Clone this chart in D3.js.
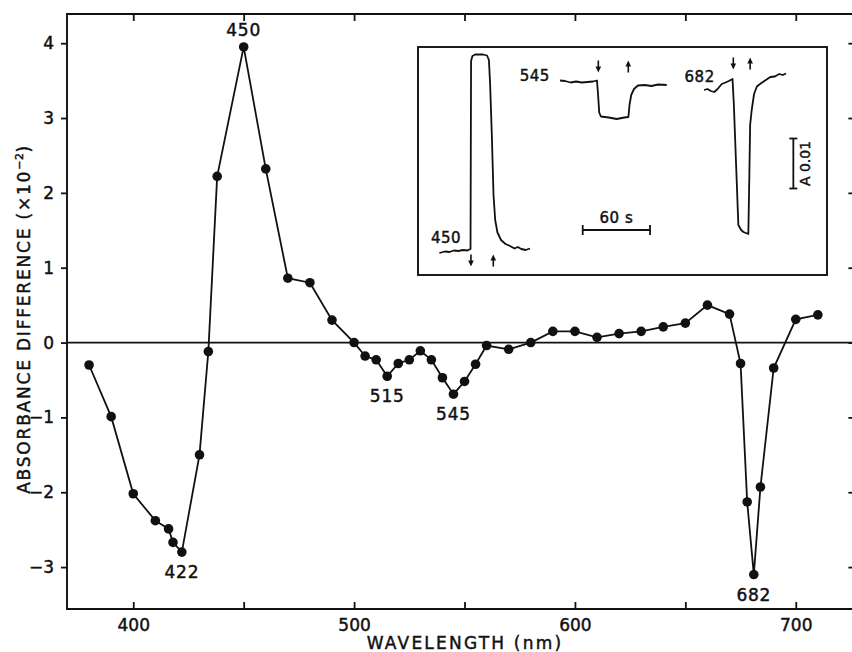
<!DOCTYPE html>
<html>
<head>
<meta charset="utf-8">
<script src="https://cdn.jsdelivr.net/npm/d3@7"></script>
<style>
  body { margin: 0; background: #fff; }
  svg { display: block; }
  text { font-family: "DejaVu Sans", sans-serif; fill: #111; stroke: #111; stroke-width: 0.45px; }
</style>
</head>
<body>
<svg id="chart" width="852" height="652"></svg>
<script>
// main spectrum (absorbance difference x10^-2)
const wavelength = [380, 390, 400, 410, 416, 418, 422, 430, 434, 438, 450, 460, 470, 480, 490,
  500, 505, 510, 515, 520, 525, 530, 535, 540, 545, 550, 555, 560, 570, 580, 590, 600,
  610, 620, 630, 640, 650, 660, 670, 675, 678, 681, 684, 690, 700, 710];
const absDiff = [-0.30, -0.99, -2.02, -2.38, -2.49, -2.67, -2.80, -1.50, -0.12, 2.22, 3.95, 2.32, 0.86, 0.80, 0.30,
  0.00, -0.18, -0.23, -0.45, -0.28, -0.23, -0.11, -0.23, -0.47, -0.69, -0.52, -0.29, -0.04, -0.09, 0.00, 0.15, 0.15,
  0.07, 0.12, 0.15, 0.21, 0.26, 0.50, 0.38, -0.28, -2.13, -3.10, -1.93, -0.34, 0.31, 0.37];

const xTicks = [400, 450, 500, 550, 600, 650, 700];
const xTickLabels = [400, 500, 600, 700];
const yTicks = [-3, -2, -1, 0, 1, 2, 3, 4];

// peak labels: [wavelength, value, "above"/"below"]
const peakLabels = [[422, -2.80, "below"], [450, 3.95, "above"], [515, -0.45, "below"],
  [545, -0.69, "below"], [681, -3.10, "below"]];
const peakText = ["422", "450", "515", "545", "682"];

// inset kinetic traces: [time s, absorbance x10^-2]
const trace450 = [[19, 0.44], [24, 0.47], [28, 0.46], [32, 0.49], [36, 0.48], [40, 0.50], [44, 0.49], [46.8, 0.52],
  [47.3, 4.28], [48.5, 4.38], [51, 4.41], [58, 4.41], [61.5, 4.39], [63.2, 4.30], [64.3, 3.8], [65.8, 2.8],
  [67.3, 1.6], [68.8, 1.1], [70.8, 0.85], [74, 0.70], [78, 0.62], [82, 0.58], [86, 0.53], [89, 0.56],
  [92, 0.52], [96, 0.50], [99.8, 0.53]];
const trace545 = [[126.6, 3.89], [131, 3.88], [136, 3.85], [141, 3.87], [146, 3.85], [151, 3.86], [156, 3.87],
  [159.5, 3.89], [160.5, 3.6], [161.5, 3.25], [163, 3.17], [170, 3.15], [177, 3.12], [184, 3.15],
  [187.5, 3.16], [188.5, 3.4], [190, 3.6], [192.5, 3.72], [196, 3.79], [202, 3.80], [208, 3.78],
  [214, 3.81], [221.7, 3.80]];
const trace682 = [[254.9, 3.70], [258, 3.72], [261, 3.68], [264, 3.66], [267, 3.72], [270.7, 3.82], [274, 3.85],
  [277, 3.88], [280.3, 3.92], [281.5, 3.4], [283.5, 2.2], [285.5, 1.0], [288, 0.90], [290, 0.86],
  [294.4, 0.82], [295.3, 2.0], [296, 3.0], [297.4, 3.3], [299.5, 3.62], [302, 3.77], [306, 3.84],
  [310, 3.90], [314, 3.96], [318, 3.97], [322, 4.02], [325, 4.00], [328, 4.03]];
const traces = [trace450, trace545, trace682];
const traceLabels = [["450", 25, 0.64], ["545", 104, 3.89], ["682", 251, 3.86]];
// light on (down arrow) / light off (up arrow): [time, centre absorbance, dir]
const arrows = [[47.2, 0.29, "down"], [67.1, 0.29, "up"], [160.7, 4.17, "down"], [187.4, 4.17, "up"],
  [281, 4.23, "down"], [296, 4.23, "up"]];
const timeBar = [146.8, 206.8];   // 60 s
const absBar = [1.73, 2.73];      // 0.01 A

const svg = d3.select("#chart");
const ink = "#111";
const lw = 1.8;

const x = d3.scaleLinear().domain([370, 727]).range([67, 855.4]);
const y = d3.scaleLinear().domain([-3.56, 4.39]).range([609, 14]);

const frame = svg.append("g").attr("stroke", ink).attr("stroke-width", 1.9).attr("fill", "none");
frame.append("path").attr("d", `M${x.range()[1]},${y.range()[1]}H${x.range()[0]}V${y.range()[0]}H${x.range()[1]}`);

// bottom axis, ticks inward
const xAxis = d3.axisBottom(x).tickValues(xTicks).tickSize(-7).tickPadding(10)
  .tickFormat(d => xTickLabels.includes(d) ? d : "");
const gx = svg.append("g").attr("transform", `translate(0,${y.range()[0]})`).call(xAxis);
gx.select(".domain").remove();
gx.selectAll("line").attr("stroke", ink).attr("stroke-width", lw);
gx.selectAll("text").style("font-size", "17px").attr("fill", ink);

// top ticks
const gxt = svg.append("g").attr("transform", `translate(0,${y.range()[1]})`)
  .call(d3.axisTop(x).tickValues(xTicks).tickSize(-7).tickFormat(""));
gxt.select(".domain").remove();
gxt.selectAll("line").attr("stroke", ink).attr("stroke-width", lw);

// left axis, ticks outward
const gy = svg.append("g").attr("transform", `translate(${x.range()[0]},0)`)
  .call(d3.axisLeft(y).tickValues(yTicks).tickSize(6).tickPadding(7)
    .tickFormat(d => d < 0 ? "\u2212" + Math.abs(d) : d));
gy.select(".domain").remove();
gy.selectAll("line").attr("stroke", ink).attr("stroke-width", lw);
gy.selectAll("text").style("font-size", "17px").attr("fill", ink);

// right ticks
const gyr = svg.append("g").attr("transform", `translate(${x.range()[1]},0)`)
  .call(d3.axisRight(y).tickValues(yTicks).tickSize(-7).tickFormat(""));
gyr.select(".domain").remove();
gyr.selectAll("line").attr("stroke", ink).attr("stroke-width", lw);

// zero line
svg.append("line")
  .attr("x1", x.range()[0]).attr("x2", x.range()[1])
  .attr("y1", y(0)).attr("y2", y(0))
  .attr("stroke", ink).attr("stroke-width", lw);

// axis titles
svg.append("text")
  .attr("x", 465).attr("y", 649)
  .attr("text-anchor", "middle")
  .style("font-size", "17px").style("letter-spacing", "2.2px")
  .text("WAVELENGTH (nm)");

const yTitle = svg.append("text")
  .attr("transform", "translate(30,319) rotate(-90)")
  .attr("text-anchor", "middle")
  .style("font-size", "17px").style("letter-spacing", "1.8px");
yTitle.append("tspan").text("ABSORBANCE DIFFERENCE (\u00d710");
yTitle.append("tspan").attr("dy", -7).style("font-size", "11px").style("letter-spacing", "0.5px").text("\u22122");
yTitle.append("tspan").attr("dy", 7).text(")");

// spectrum
const pts = wavelength.map((w, i) => [w, absDiff[i]]);
svg.append("path")
  .datum(pts)
  .attr("fill", "none").attr("stroke", ink).attr("stroke-width", lw)
  .attr("d", d3.line().x(d => x(d[0])).y(d => y(d[1])));
svg.append("g").selectAll("circle")
  .data(pts)
  .enter()
  .append("circle")
  .attr("cx", d => x(d[0]))
  .attr("cy", d => y(d[1]))
  .attr("r", 4.8)
  .attr("fill", ink);

svg.append("g").selectAll("text")
  .data(peakLabels)
  .enter()
  .append("text")
  .attr("x", d => x(d[0]))
  .attr("y", d => d[2] === "above" ? y(d[1]) - 11 : y(d[1]) + 26)
  .attr("text-anchor", "middle")
  .style("font-size", "17px").style("letter-spacing", "0.8px")
  .text((d, i) => peakText[i]);

// inset
const ix = d3.scaleLinear().domain([0, 364.5]).range([418, 827]);
const iy = d3.scaleLinear().domain([0, 4.56]).range([275, 47]);
const inset = svg.append("g");
inset.append("rect")
  .attr("x", ix.range()[0]).attr("y", iy.range()[1])
  .attr("width", ix.range()[1] - ix.range()[0]).attr("height", iy.range()[0] - iy.range()[1])
  .attr("fill", "#fff").attr("stroke", ink).attr("stroke-width", 1.9);

const traceLine = d3.line().x(d => ix(d[0])).y(d => iy(d[1]));
inset.selectAll("path.trace")
  .data(traces)
  .enter()
  .append("path")
  .attr("class", "trace")
  .attr("fill", "none").attr("stroke", ink).attr("stroke-width", lw)
  .attr("stroke-linejoin", "round")
  .attr("d", traceLine);

inset.selectAll("text.tl")
  .data(traceLabels)
  .enter()
  .append("text")
  .attr("class", "tl")
  .attr("x", d => ix(d[1])).attr("y", d => iy(d[2]))
  .attr("text-anchor", "middle")
  .style("font-size", "15px").style("letter-spacing", "0.5px")
  .text(d => d[0]);

// arrows
const ag = inset.selectAll("g.arrow")
  .data(arrows)
  .enter()
  .append("g")
  .attr("class", "arrow")
  .attr("transform", d => `translate(${ix(d[0])},${iy(d[1])})${d[2] === "up" ? " rotate(180)" : ""}`);
ag.append("line").attr("y1", -6).attr("y2", 2).attr("stroke", ink).attr("stroke-width", 1.6);
ag.append("path").attr("d", "M-2.8,0L2.8,0L0,6Z").attr("fill", ink);

// 60 s bar
const tb = inset.append("g").attr("stroke", ink).attr("stroke-width", lw);
tb.append("line").attr("x1", ix(timeBar[0])).attr("x2", ix(timeBar[1])).attr("y1", iy(0.9)).attr("y2", iy(0.9));
timeBar.forEach(t => tb.append("line").attr("x1", ix(t)).attr("x2", ix(t)).attr("y1", iy(0.9) - 5).attr("y2", iy(0.9) + 5));
inset.append("text")
  .attr("x", ix((timeBar[0] + timeBar[1]) / 2)).attr("y", iy(0.9) - 7)
  .attr("text-anchor", "middle").style("font-size", "15px").style("letter-spacing", "0.5px")
  .text("60 s");

// 0.01 A bar
const ab = inset.append("g").attr("stroke", ink).attr("stroke-width", lw);
ab.append("line").attr("x1", ix(334.5)).attr("x2", ix(334.5)).attr("y1", iy(absBar[0])).attr("y2", iy(absBar[1]));
absBar.forEach(a => ab.append("line").attr("x1", ix(334.5) - 4).attr("x2", ix(334.5) + 4).attr("y1", iy(a)).attr("y2", iy(a)));
inset.append("text")
  .attr("transform", `translate(${ix(334.5) + 17},${iy((absBar[0] + absBar[1]) / 2)}) rotate(-90)`)
  .attr("text-anchor", "middle").style("font-size", "14px")
  .text("A 0.01");
</script>
</body>
</html>
